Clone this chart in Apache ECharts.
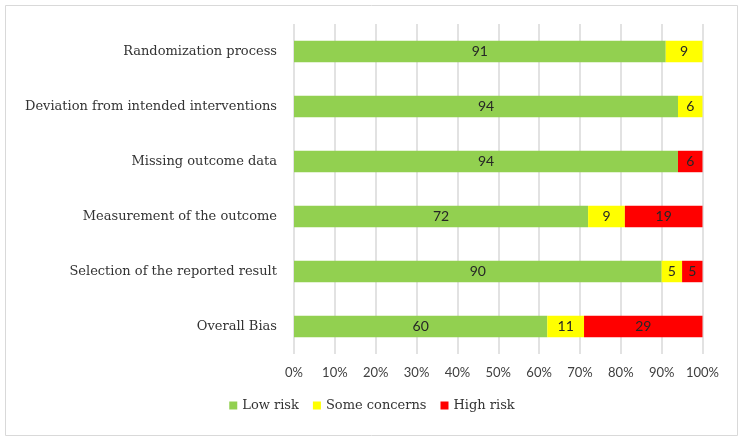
<!DOCTYPE html>
<html><head><meta charset="utf-8">
<script src="https://cdn.jsdelivr.net/npm/echarts@6/dist/echarts.min.js"></script>
<style>html,body{margin:0;padding:0;background:#fff}#c{width:744px;height:441px}</style>
</head><body><div id="c"></div>
<script>
const categories = ["Randomization process","Deviation from intended interventions","Missing outcome data","Measurement of the outcome","Selection of the reported result","Overall Bias"];
const seriesNames = ["Low risk","Some concerns","High risk"];
// bar extents as drawn in the picture (percent)
const lowRisk = [91, 94, 94, 72, 90, 62];
const someConcerns = [9, 6, 0, 9, 5, 9];
const highRisk = [0, 0, 6, 19, 5, 29];
// numbers printed on the bars
const lowRiskLabels = [91, 94, 94, 72, 90, 60];
const someConcernsLabels = [9, 6, null, 9, 5, 11];
const highRiskLabels = [null, null, 6, 19, 5, 29];
const xTicks = [0,10,20,30,40,50,60,70,80,90,100];

const colors = ["#92D050","#FFFF00","#FF0000"];
const valueSets = [lowRisk, someConcerns, highRisk];
const labelSets = [lowRiskLabels, someConcernsLabels, highRiskLabels];
const chart = echarts.init(document.getElementById('c'), null, {renderer:'canvas'});
const serif = '"DejaVu Serif", serif';
const sans = 'Lato, "Open Sans", sans-serif';
chart.setOption({
  animation:false,
  backgroundColor:'#fff',
  graphic:[{type:'rect',shape:{x:5.5,y:5.5,width:732,height:430},style:{fill:'none',stroke:'#d9d9d9',lineWidth:1},silent:true,z:-1}],
  legend:{data:seriesNames,bottom:24,left:'center',itemWidth:8,itemHeight:8,itemGap:14,icon:'rect',
    textStyle:{fontFamily:serif,fontSize:13,color:'#333'}},
  grid:{left:294,right:41.5,top:24,height:330},
  xAxis:{type:'value',min:xTicks[0],max:xTicks[xTicks.length-1],interval:10,
    axisLine:{show:false},axisTick:{show:false},
    splitLine:{show:true,lineStyle:{color:'#d9d9d9',width:1.5}},
    axisLabel:{formatter:v=>v+'%',fontFamily:sans,fontSize:13,color:'#404040',margin:12}},
  yAxis:{type:'category',data:categories,inverse:true,
    axisLine:{show:false},axisTick:{show:false},
    axisLabel:{fontFamily:serif,fontSize:13,color:'#333',margin:17}},
  series:valueSets.map((vals,si)=>({
    name:seriesNames[si],type:'bar',stack:'all',barCategoryGap:'61%',
    itemStyle:{color:colors[si]},
    data:vals.map((v,i)=>({value:v,lbl:labelSets[si][i]})),
    label:{show:true,position:'inside',fontFamily:sans,fontSize:14,color:'#262626',
      formatter:p=>p.data.lbl==null?'':String(p.data.lbl)}
  }))
});
</script></body></html>
